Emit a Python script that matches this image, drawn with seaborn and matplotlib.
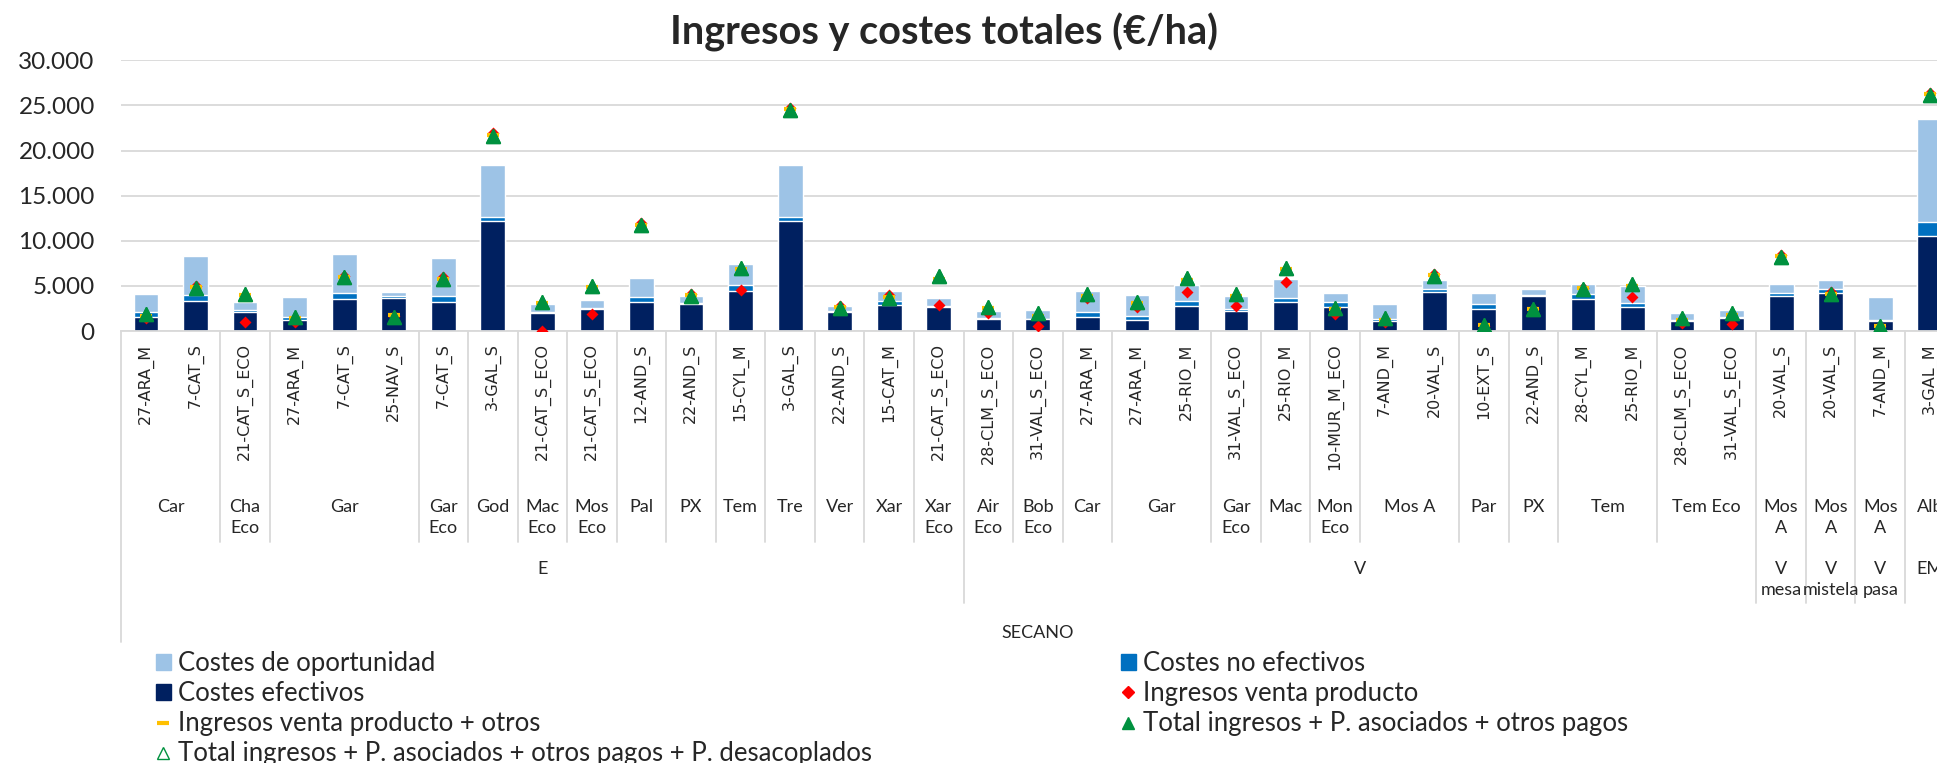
import numpy as np
import pandas as pd
import matplotlib
matplotlib.use('Agg')
import matplotlib.pyplot as plt
import seaborn as sns
from matplotlib.lines import Line2D
from matplotlib.patches import Patch

# <editor-fold datos>
categorias = ["27-ARA_M", "7-CAT_S", "21-CAT_S_ECO", "27-ARA_M", "7-CAT_S", "25-NAV_S", "7-CAT_S",
              "3-GAL_S", "21-CAT_S_ECO", "21-CAT_S_ECO", "12-AND_S", "22-AND_S", "15-CYL_M", "3-GAL_S",
              "22-AND_S", "15-CAT_M", "21-CAT_S_ECO",
              "28-CLM_S_ECO", "31-VAL_S_ECO", "27-ARA_M", "27-ARA_M", "25-RIO_M", "31-VAL_S_ECO",
              "25-RIO_M", "10-MUR_M_ECO", "7-AND_M", "20-VAL_S", "10-EXT_S", "22-AND_S", "28-CYL_M",
              "25-RIO_M", "28-CLM_S_ECO", "31-VAL_S_ECO",
              "20-VAL_S", "20-VAL_S", "7-AND_M", "3-GAL_M"]

grupo2 = ["Car", "Cha Eco", "Gar", "Gar Eco", "God", "Mac Eco", "Mos Eco", "Pal", "PX", "Tem", "Tre",
          "Ver", "Xar", "Xar Eco",
          "Air Eco", "Bob Eco", "Car", "Gar", "Gar Eco", "Mac", "Mon Eco", "Mos A", "Par", "PX", "Tem",
          "Tem Eco",
          "Mos A", "Mos A", "Mos A", "Alb"]
n_grupo2 = [2, 1, 3, 1, 1, 1, 1, 1, 1, 1, 1, 1, 1, 1,
            1, 1, 1, 2, 1, 1, 1, 2, 1, 1, 2, 2,
            1, 1, 1, 1]

grupo3 = ["E", "V", "V mesa", "V mistela", "V pasa", "EM"]
n_grupo3 = [17, 16, 1, 1, 1, 1]

grupo4 = ["SECANO"]
n_grupo4 = [37]

costes_efectivos = [1580, 3350, 2130, 1210, 3570, 3680, 3240, 12180, 1950, 2390, 3240, 2980, 4420, 12180,
                    2130, 2830, 2610, 1290, 1320, 1580, 1210, 2760, 2240, 3160, 2690, 1100, 4270, 2470,
                    3860, 3570, 2610, 1140, 1470, 3900, 4230, 1100, 10560]
costes_no_efectivos = [480, 620, 190, 370, 630, 220, 660, 410, 180, 110, 550, 150, 660, 410,
                       80, 480, 150, 110, 60, 550, 440, 520, 150, 520, 550, 190, 330, 510,
                       80, 510, 520, 100, 80, 330, 370, 110, 1510]
costes_oportunidad = [2060, 4310, 880, 2210, 4300, 400, 4160, 5810, 850, 890, 2130, 730, 2320, 5810,
                      590, 1110, 850, 810, 900, 2320, 2320, 1830, 1510, 2100, 960, 1690, 1030, 1250,
                      730, 1110, 1910, 750, 770, 960, 1070, 2580, 11410]
ingresos_venta = [1400, 4950, 1000, 1050, 6150, 1650, 5950, 21900, 50, 1850, 11950, 4100, 4550, 24750,
                  2750, 3950, 2850, 1950, 600, 3700, 2700, 4300, 2800, 5400, 1900, 1050, 6350, 500,
                  2450, 4800, 3750, 850, 800, 8450, 4300, 550, 26400]
ingresos_otros = [1650, 4850, 3950, 1400, 5950, 1750, 5800, 21750, 3050, 4850, 11800, 3950, 6900, 24600,
                  2650, 3800, 5800, 2500, 1700, 3900, 3050, 5650, 3850, 6900, 2400, 1250, 6200, 700,
                  2400, 4750, 5000, 1250, 1800, 8300, 4150, 600, 26250]
total_ingresos = [1850, 4750, 4150, 1550, 6000, 1600, 5750, 21650, 3250, 5000, 11750, 3900, 7000, 24500,
                  2550, 3700, 6050, 2700, 1950, 4100, 3250, 5850, 4150, 7000, 2500, 1400, 6100, 650,
                  2400, 4700, 5200, 1400, 2050, 8200, 4100, 550, 26150]
total_desacoplados = list(total_ingresos)
# </editor-fold>

c_op, c_noef, c_ef = '#9DC3E6', '#0070C0', '#002060'
c_rojo, c_amarillo, c_verde = '#FF0000', '#FFC000', '#00913F'
c_gris = '#D9D9D9'

df = pd.DataFrame({'pos': range(len(categorias)),
                   'ef': costes_efectivos,
                   'noef': costes_no_efectivos,
                   'op': costes_oportunidad})
df['top2'] = df['ef'] + df['noef']
df['top3'] = df['top2'] + df['op']

sns.set_style('white')
plt.rcParams['font.family'] = ['Lato', 'DejaVu Sans']

W, H = 1937, 763
x0, cw = 121.2, 49.55
y_top, y_bot = 60.3, 331
n = len(categorias)

fig = plt.figure(figsize=(W / 100, H / 100), dpi=100)
ax = fig.add_axes([x0 / W, 1 - y_bot / H, n * cw / W, (y_bot - y_top) / H])

# stacked bars drawn from the total down
sns.barplot(data=df, x='pos', y='top3', color=c_op, width=0.5, saturation=1, errorbar=None, ax=ax)
sns.barplot(data=df, x='pos', y='top2', color=c_noef, width=0.5, saturation=1, errorbar=None, ax=ax)
sns.barplot(data=df, x='pos', y='ef', color=c_ef, width=0.5, saturation=1, errorbar=None, ax=ax)

ax.plot(df['pos'], ingresos_venta, 'D', color=c_rojo, ms=6.5, mec='none', zorder=3)
ax.plot(df['pos'], ingresos_otros, '_', color=c_amarillo, ms=9, mew=3, zorder=4)
ax.plot(df['pos'], total_ingresos, '^', color=c_verde, ms=10, mec=c_verde, zorder=5)
ax.plot(df['pos'], total_desacoplados, '^', mfc='none', mec=c_verde, ms=10, mew=1, zorder=6)

ax.set_xlim(-0.5, n - 0.5)
ax.set_ylim(0, 30000)
yt = list(range(0, 30001, 5000))
ax.set_yticks(yt)
ax.set_yticklabels([f"{v:,}".replace(',', '.') for v in yt])
ax.tick_params(axis='y', length=0, pad=19, labelsize=17.5)
ax.set_xticks(range(n))
ax.set_xticklabels(categorias, rotation=90, fontfamily='DejaVu Sans', fontsize=11.5)
ax.tick_params(axis='x', length=0, pad=9)
ax.set_xlabel('')
ax.set_ylabel('')
ax.yaxis.grid(True, color=c_gris, lw=1.3)
ax.set_axisbelow(True)
for s in ['left', 'top', 'right']:
    ax.spines[s].set_visible(False)
ax.spines['bottom'].set_color(c_gris)
ax.spines['bottom'].set_linewidth(1.3)


def fy(px):
    return (y_bot - px) / (y_bot - y_top)


trans = ax.get_xaxis_transform()

# separators of the multi level axis
b2 = set(np.cumsum([0] + n_grupo2))
b3 = set(np.cumsum([0] + n_grupo3))
b4 = set(np.cumsum([0] + n_grupo4))
for b in sorted(b2 | b3 | b4):
    if b in b4:
        low = 642
    elif b in b3:
        low = 603
    else:
        low = 542
    ax.plot([b - 0.5, b - 0.5], [0, fy(low)], transform=trans, color=c_gris, lw=1.3, clip_on=False)


def etiquetas(grupos, cuentas, y_px, va='top'):
    start = 0
    for lab, c in zip(grupos, cuentas):
        txt = lab.replace(' ', '\n') if c == 1 else lab
        ax.text(start + (c - 1) / 2, fy(y_px), txt, transform=trans, ha='center', va=va,
                fontsize=13, linespacing=1.38, clip_on=False)
        start += c


etiquetas(grupo2, n_grupo2, 499)
etiquetas(grupo3, n_grupo3, 561)
etiquetas(grupo4, n_grupo4, 633, va='center')

fig.text(944 / W, 1 - 44 / H, 'Ingresos y costes totales (€/ha)', ha='center', va='baseline',
         fontsize=28.5, fontweight='bold')

# legend in two columns
h1 = [Patch(color=c_op),
      Patch(color=c_ef),
      Line2D([], [], marker='_', ls='none', color=c_amarillo, ms=8, mew=3),
      Line2D([], [], marker='^', ls='none', mfc='white', mec=c_verde, ms=9, mew=1)]
l1 = ['Costes de oportunidad', 'Costes efectivos', 'Ingresos venta producto + otros',
      'Total ingresos + P. asociados + otros pagos + P. desacoplados']
h2 = [Patch(color=c_noef),
      Line2D([], [], marker='D', ls='none', color=c_rojo, ms=6),
      Line2D([], [], marker='^', ls='none', color=c_verde, ms=9)]
l2 = ['Costes no efectivos', 'Ingresos venta producto', 'Total ingresos + P. asociados + otros pagos']

kw = dict(loc='upper left', frameon=False, fontsize=18.5, handlelength=0.58, handleheight=0.62,
          handletextpad=0.27, labelspacing=0.2, borderpad=0, borderaxespad=0)
fig.legend(h1, l1, bbox_to_anchor=(156 / W, 1 - 651 / H), **kw)
fig.legend(h2, l2, bbox_to_anchor=(1121 / W, 1 - 651 / H), **kw)

fig.savefig('out.png', dpi=100)
